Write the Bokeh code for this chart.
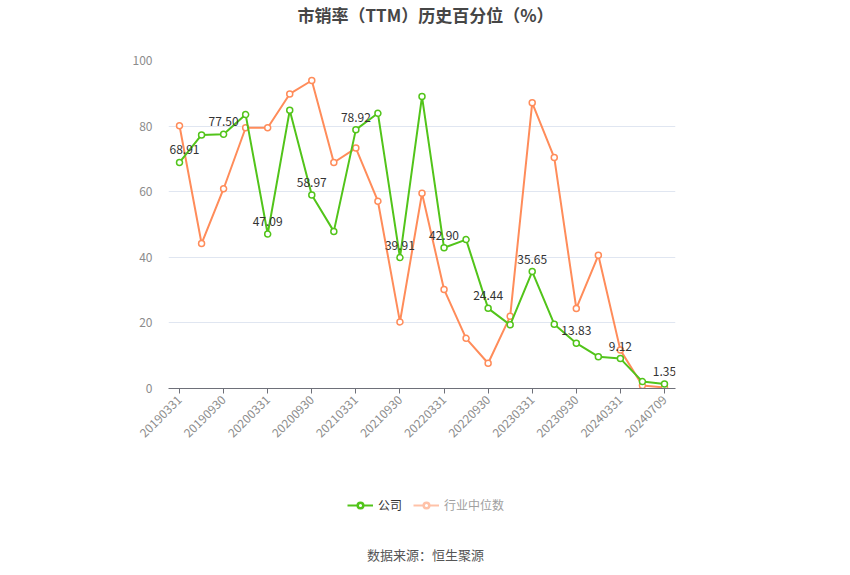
import math
from bokeh.plotting import figure
from bokeh.layouts import column
from bokeh.models import (ColumnDataSource, Label, LabelSet, Legend, LegendItem,
                          FixedTicker, Range1d)
from bokeh.core.properties import value
from bokeh.embed import file_html
from bokeh.resources import INLINE

dates = ["20190331", "20190630", "20190930", "20191231", "20200331", "20200630",
         "20200930", "20201231", "20210331", "20210630", "20210930", "20211231",
         "20220331", "20220630", "20220930", "20221231", "20230331", "20230630",
         "20230930", "20231231", "20240331", "20240630", "20240709"]
company = [68.91, 77.3, 77.50, 83.5, 47.09, 84.8, 58.97, 47.9, 78.92, 83.9,
           39.91, 89.0, 42.90, 45.4, 24.44, 19.4, 35.65, 19.6, 13.83, 9.7,
           9.12, 2.1, 1.35]
industry = [80.1, 44.2, 60.9, 79.5, 79.5, 89.8, 93.9, 68.9, 73.3, 57.1,
            20.3, 59.5, 30.2, 15.3, 7.7, 22.0, 87.1, 70.4, 24.4, 40.6,
            11.7, 0.9, 0.3]
title_text = "市销率（TTM）历史百分位（%）"
source_text = "数据来源：恒生聚源"
series_names = ["公司", "行业中位数"]

GREEN = "#52C41A"
ORANGE = "#FF8C5A"
FONT = "Noto Sans CJK SC"

xs = list(range(len(dates)))
src = ColumnDataSource(dict(x=xs, c=company, i=industry))
lab_idx = [k for k in xs if k % 2 == 0]
lab_src = ColumnDataSource(dict(x=lab_idx, y=[company[k] for k in lab_idx],
                                t=["%.2f" % company[k] for k in lab_idx],
                                dx=[5 if k == 0 else 0 for k in lab_idx]))

LEFT, RIGHT = 168, 175


def blank_fig(h):
    f = figure(width=850, height=h, output_backend="svg", toolbar_location=None,
               x_range=Range1d(0, 1), y_range=Range1d(0, 1),
               min_border_left=LEFT, min_border_right=RIGHT,
               min_border_top=0, min_border_bottom=0)
    f.axis.visible = False
    f.grid.visible = False
    f.outline_line_color = None
    f.border_fill_color = "white"
    return f


# top figure: title
p0 = blank_fig(30)
p0.add_layout(Label(x=425 - LEFT, y=16, x_units="screen", y_units="screen",
                    text=title_text, text_align="center",
                    text_baseline="middle", text_font=FONT,
                    text_font_size="17px", text_font_style="bold",
                    text_color="#464646"))

# main figure
p = figure(width=850, height=440, output_backend="svg", toolbar_location=None,
           x_range=Range1d(-0.5, len(dates) - 0.5), y_range=Range1d(0, 100),
           min_border_left=LEFT, min_border_right=RIGHT, min_border_top=30,
           min_border_bottom=82)
p.outline_line_color = None
p.background_fill_color = "white"
p.border_fill_color = "white"

p.xgrid.grid_line_color = None
p.ygrid.grid_line_color = "#E0E6F1"
p.ygrid.grid_line_width = 1

p.yaxis.ticker = FixedTicker(ticks=[0, 20, 40, 60, 80, 100])
p.yaxis.axis_line_color = None
p.yaxis.major_tick_line_color = None
p.yaxis.minor_tick_line_color = None
p.yaxis.major_label_text_color = "#8C8C8C"
p.yaxis.major_label_text_font = FONT
p.yaxis.major_label_text_font_size = "12px"
p.yaxis.major_label_standoff = 10

p.xaxis.ticker = FixedTicker(ticks=lab_idx)
p.xaxis.major_label_overrides = {k: dates[k] for k in lab_idx}
p.xaxis.major_label_orientation = math.pi / 4
p.xaxis.axis_line_color = "#6E7079"
p.xaxis.major_tick_line_color = "#6E7079"
p.xaxis.major_tick_out = 5
p.xaxis.major_tick_in = 0
p.xaxis.minor_tick_line_color = None
p.xaxis.major_label_text_color = "#8C8C8C"
p.xaxis.major_label_text_font = FONT
p.xaxis.major_label_text_font_size = "12px"
p.xaxis.major_label_standoff = 4

p.line("x", "i", source=src, line_color=ORANGE, line_width=2)
p.scatter("x", "i", source=src, size=6, line_color=ORANGE, line_width=1.5,
          fill_color="white")
p.line("x", "c", source=src, line_color=GREEN, line_width=2)
p.scatter("x", "c", source=src, size=6, line_color=GREEN, line_width=1.5,
          fill_color="white")

p.add_layout(LabelSet(x="x", y="y", text="t", source=lab_src, y_offset=8,
                      x_offset="dx",
                      text_align="center", text_baseline="bottom",
                      text_font=value(FONT), text_font_size="12px",
                      text_color="#333333"))

# bottom figure: legend + source
p2 = blank_fig(105)

hidden = ColumnDataSource(dict(x=[-10], y=[-10]))
gl = p2.line("x", "y", source=hidden, line_color=GREEN, line_width=2)
gs = p2.scatter("x", "y", source=hidden, size=13, line_color=GREEN,
                line_width=2.5, fill_color="white")
ol = p2.line("x", "y", source=hidden, line_color="#FFC2A8", line_width=2)
os_ = p2.scatter("x", "y", source=hidden, size=13, line_color="#FFC2A8",
                 line_width=2.5, fill_color="white")

legend_common = dict(label_text_font=FONT, label_text_font_size="12px",
                     glyph_width=26, glyph_height=14, padding=0, margin=0,
                     label_standoff=5, border_line_color=None,
                     background_fill_alpha=0)
leg1 = Legend(items=[LegendItem(label=series_names[0], renderers=[gl, gs])],
              location=(347 - LEFT, 62), label_text_color="#333333",
              **legend_common)
leg2 = Legend(items=[LegendItem(label=series_names[1], renderers=[ol, os_])],
              location=(413 - LEFT, 62), label_text_color="#A0A0A0",
              **legend_common)
p2.add_layout(leg1)
p2.add_layout(leg2)

p2.add_layout(Label(x=425 - LEFT, y=21, x_units="screen", y_units="screen",
                    text=source_text, text_align="center",
                    text_baseline="middle", text_font=FONT,
                    text_font_size="13px", text_color="#555555"))

layout = column(p0, p, p2, spacing=0)
open("out.html", "w").write(file_html(layout, INLINE))
